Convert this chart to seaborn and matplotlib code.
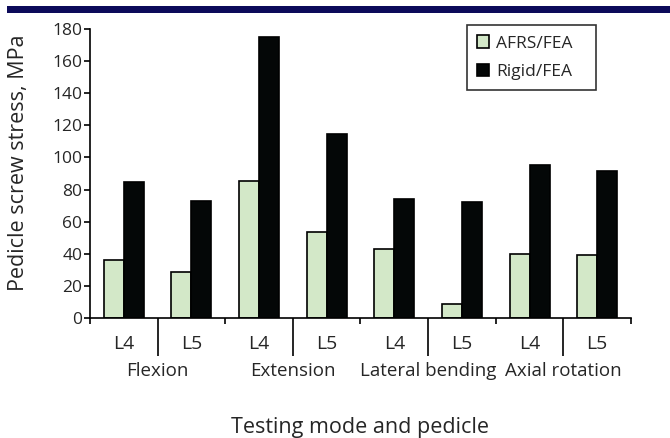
import matplotlib
matplotlib.use("Agg")
import matplotlib.pyplot as plt
import seaborn as sns
import pandas as pd
from matplotlib.patches import Rectangle

categories = ["Flexion L4", "Flexion L5", "Extension L4", "Extension L5",
              "Lateral bending L4", "Lateral bending L5", "Axial rotation L4", "Axial rotation L5"]
pedicle_labels = ["L4", "L5", "L4", "L5", "L4", "L5", "L4", "L5"]
modes = ["Flexion", "Extension", "Lateral bending", "Axial rotation"]
afrs_fea = [36, 28.5, 85.5, 53.7, 42.8, 8.5, 40, 39.2]
rigid_fea = [85, 73, 175, 114.5, 74, 72.4, 95, 91.7]
series = ["AFRS/FEA", "Rigid/FEA"]
yticks = [0, 20, 40, 60, 80, 100, 120, 140, 160, 180]

df = pd.DataFrame({
    "category": categories * 2,
    "series": [series[0]] * 8 + [series[1]] * 8,
    "value": afrs_fea + rigid_fea,
})

sns.set_theme(style="white")
plt.rcParams["font.family"] = ["Open Sans", "DejaVu Sans"]

fig = plt.figure(figsize=(6.7, 4.38), dpi=100)
ax = fig.add_axes([90 / 670, 1 - 318 / 438, 541 / 670, 289 / 438])

sns.barplot(data=df, x="category", y="value", hue="series", order=categories,
            hue_order=series, palette=["#d3e8c8", "#040707"], width=0.59,
            edgecolor="black", linewidth=1.2, saturation=1, ax=ax)

ax.set_ylim(0, 180)
ax.set_xlim(-0.5, 7.5)
for s in ["top", "right"]:
    ax.spines[s].set_visible(False)
for s in ["left", "bottom"]:
    ax.spines[s].set_color("black")
    ax.spines[s].set_linewidth(1.2)

ax.set_yticks(yticks)
ax.set_yticklabels([str(v) for v in yticks], fontsize=12.5)
ax.tick_params(axis="y", direction="out", length=4.5, width=1.2, color="black", pad=1, left=True)

ax.set_xticks(range(8))
ax.set_xticklabels(pedicle_labels, fontsize=14)
ax.tick_params(axis="x", which="major", length=0, pad=12.5)
ax.set_xticks([-0.5, 1.5, 3.5, 5.5, 7.5], minor=True)
ax.tick_params(axis="x", which="minor", direction="out", length=4.5, width=1.2, color="black", bottom=True)

sec = ax.secondary_xaxis("bottom")
sec.set_xticks([0.5, 2.5, 4.5, 6.5])
sec.set_xticklabels(modes, fontsize=13.5)
sec.tick_params(axis="x", direction="out", length=27.5, width=1.2, color="black", pad=4.5)
sec.spines["bottom"].set_visible(False)
sec.set_xlabel("Testing mode and pedicle", fontsize=15.5, labelpad=26)

ax.set_xlabel("")
ax.set_ylabel("Pedicle screw stress, MPa", fontsize=15.5)
ax.yaxis.set_label_coords(-0.112, 0.538)

leg = ax.legend(loc="upper left", bbox_to_anchor=(0.696, 0.789, 0.239, 0.225), mode="expand",
                frameon=True, fancybox=False, edgecolor="black", fontsize=12.5,
                handlelength=0.7, handleheight=0.7, handletextpad=0.4,
                borderpad=0.6, labelspacing=0.7, borderaxespad=0)
leg.get_frame().set_linewidth(1.2)

fig.patches.append(Rectangle((7 / 670, 1 - 12.7 / 438), 663 / 670, 6.7 / 438,
                             transform=fig.transFigure, facecolor="#0c0a5a",
                             edgecolor="none", figure=fig))

fig.savefig("out.png", dpi=100, facecolor="white")
